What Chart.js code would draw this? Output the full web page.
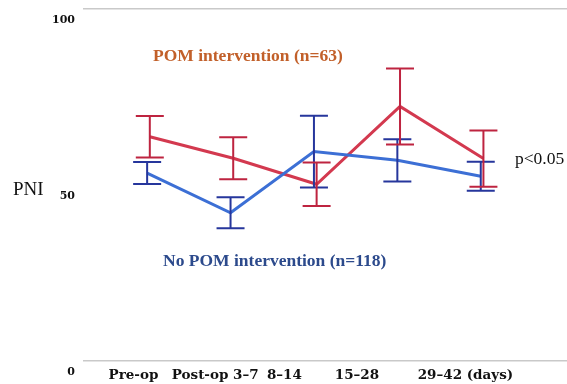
<!DOCTYPE html>
<html>
<head>
<meta charset="utf-8">
<script src="https://cdn.jsdelivr.net/npm/chart.js@4.4.1/dist/chart.umd.min.js"></script>
<style>
html,body{margin:0;padding:0;background:#fff;}
#wrap{width:567px;height:384px;position:relative;}
</style>
</head>
<body>
<div id="wrap"><canvas id="c" width="567" height="384"></canvas></div>
<script>
// ---- data ----
const categories = ["Pre-op", "Post-op 3\u20137", "8\u201314", "15\u201328", "29\u201342 (days)"];
const tickPositions = [-0.18, 0.80, 1.63, 2.50, 3.80];
const pomMean = [63.7, 57.6, 50.2, 72.3, 57.5];
const pomErr  = [5.9, 6.0, 6.2, 10.8, 8.0];
const noPomMean = [53.4, 42.1, 59.5, 57.0, 52.5];
const noPomErr  = [3.1, 4.4, 10.2, 6.0, 4.1];
const yTicks = [0, 50, 100];

const POM_LINE = '#D3394F', POM_BAR = '#BE2440';
const NO_LINE = '#3C6FD5', NO_BAR = '#26369C';

function pts(means, shift) {
  return means.map((v, i) => ({x: i + shift, y: v}));
}

const errorBars = {
  id: 'errorBars',
  afterDatasetsDraw(chart) {
    const ctx = chart.ctx, xs = chart.scales.x, ys = chart.scales.y;
    const sets = [
      {means: noPomMean, errs: noPomErr, shift: -0.016, color: NO_BAR},
      {means: pomMean, errs: pomErr, shift: 0.016, color: POM_BAR}
    ];
    ctx.save();
    ctx.lineWidth = 2;
    sets.forEach(s => {
      ctx.strokeStyle = s.color;
      s.means.forEach((m, i) => {
        const x = xs.getPixelForValue(i + s.shift);
        const yt = ys.getPixelForValue(m + s.errs[i]);
        const yb = ys.getPixelForValue(m - s.errs[i]);
        const hw = 14;
        ctx.beginPath();
        ctx.moveTo(x, yt); ctx.lineTo(x, yb);
        ctx.moveTo(x - hw, yt); ctx.lineTo(x + hw, yt);
        ctx.moveTo(x - hw, yb); ctx.lineTo(x + hw, yb);
        ctx.stroke();
      });
    });
    ctx.restore();
  }
};

const annotations = {
  id: 'annotations',
  afterDraw(chart) {
    const ctx = chart.ctx;
    ctx.save();
    ctx.textBaseline = 'middle';
    ctx.textAlign = 'left';
    ctx.font = 'bold 17.5px "Liberation Serif", serif';
    ctx.fillStyle = '#C2602A';
    ctx.fillText('POM intervention (n=63)', 153, 56);
    ctx.fillStyle = '#2C4A8C';
    ctx.fillText('No POM intervention (n=118)', 163, 261);
    ctx.font = '17.5px "Liberation Serif", serif';
    ctx.fillStyle = '#111';
    ctx.fillText('p<0.05', 515, 159);
    ctx.font = '19px "Liberation Serif", serif';
    ctx.fillText('PNI', 13, 190);
    ctx.restore();
  }
};

new Chart(document.getElementById('c'), {
  type: 'line',
  data: {
    datasets: [
      {label: 'No POM intervention (n=118)', data: pts(noPomMean, -0.016), borderColor: NO_LINE, borderWidth: 3, pointRadius: 0, tension: 0, fill: false},
      {label: 'POM intervention (n=63)', data: pts(pomMean, 0.016), borderColor: POM_LINE, borderWidth: 3, pointRadius: 0, tension: 0, fill: false}
    ]
  },
  options: {
    responsive: false,
    animation: false,
    layout: {padding: {top: 9, left: 0, right: 0, bottom: 0}},
    plugins: {legend: {display: false}, tooltip: {enabled: false}},
    scales: {
      x: {
        type: 'linear',
        min: -0.785, max: 5.018,
        afterBuildTicks(scale) { scale.ticks = tickPositions.map(v => ({value: v})); },
        afterFit(scale) { scale.height = 23; scale.paddingLeft = 0; scale.paddingRight = 0; },
        grid: {display: false, drawTicks: false},
        border: {display: false},
        ticks: {
          autoSkip: false, maxRotation: 0, padding: 6,
          color: '#111',
          font: {family: '"DejaVu Serif", serif', weight: 'bold', size: 13.5},
          callback(v) { const i = tickPositions.indexOf(v); return i >= 0 ? categories[i] : ''; }
        }
      },
      y: {
        min: 0, max: 100,
        afterBuildTicks(scale) { scale.ticks = yTicks.map(v => ({value: v})); },
        afterFit(scale) { scale.width = 83; scale.paddingTop = 0; scale.paddingBottom = 0; },
        grid: {drawTicks: false, lineWidth: 1.5, color: ctx => ctx.tick && ctx.tick.value === 50 ? 'rgba(0,0,0,0)' : '#C9C9C9'},
        border: {display: false},
        ticks: {
          padding: 8, labelOffset: 11,
          color: '#111',
          font: {family: '"DejaVu Serif", serif', weight: 'bold', size: 11}
        }
      }
    }
  },
  plugins: [errorBars, annotations]
});
</script>
</body>
</html>
